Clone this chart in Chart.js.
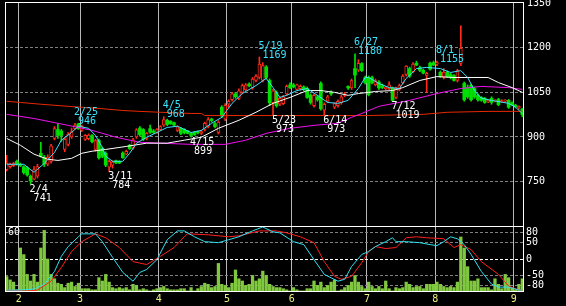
<!DOCTYPE html>
<html>
<head>
<meta charset="utf-8">
<script src="https://cdn.jsdelivr.net/npm/chart.js@4.4.1/dist/chart.umd.min.js"></script>
<style>
  html, body { margin: 0; padding: 0; background: #000; }
  #wrap { position: relative; width: 566px; height: 306px; overflow: hidden; background: #000; }
  #priceChart { position: absolute; left: 0; top: 0; }
  #subChart { position: absolute; left: 0; top: 226px; }
</style>
</head>
<body>
<div id="wrap">
  <canvas id="priceChart" width="566" height="227"></canvas>
  <canvas id="subChart" width="566" height="80"></canvas>
</div>
<script>
// trading days on the chart and where each month starts
const dayCount = 152;
const monthLabels = ['2', '3', '4', '5', '6', '7', '8', '9'];
const monthStarts = [4, 22, 45, 65, 84, 106, 126, 149];

const priceTicks = [750, 900, 1050, 1200, 1350];
const oscTicks = [80, 50, 0, -50, -80];
const volumeTicks = [60];

// daily candles
const opens = [
  790, 800, 803, 818, 808, 800, 796, 768, 758, 768,
  845, 832, 808, 818, 895, 925, 920, 858, 875, 900,
  928, 944, 922, 892, 894, 905, 858, 888, 862, 845,
  798, 805, 820, 818, 846, 842, 872, 862, 900, 930,
  925, 895, 928, 920, 915, 925, 940, 956, 952, 948,
  922, 928, 925, 920, 912, 915, 918, 912, 925, 935,
  960, 945, 915, 1000, 960, 1010, 1025, 1045, 1030, 1050,
  1058, 1078, 1065, 1090, 1100, 1090, 1135, 1090, 1015, 1050,
  1010, 1012, 1045, 1075, 1075, 1060, 1062, 1068, 1063, 1040,
  1005, 1035, 1080, 990, 1020, 1050, 1000, 1005, 1015, 1040,
  1070, 1065, 1130, 1125, 1147, 1100, 1100, 1100, 1075, 1085,
  1072, 1062, 1062, 1065, 1033, 1060, 1082, 1110, 1130, 1120,
  1148, 1133, 1124, 1107, 1148, 1150, 1145, 1117, 1100, 1117,
  1110, 1107, 1090, 1147, 1080, 1066, 1073, 1063, 1040, 1033,
  1030, 1018, 1030, 1020, 1026, 1018, 1020, 1023, 1015, 1007,
  998, 994
];
const highs = [
  838, 812, 815, 822, 812, 803, 800, 772, 800, 808,
  882, 838, 840, 875, 935, 945, 925, 898, 915, 930,
  946, 946, 940, 908, 910, 908, 892, 893, 866, 850,
  822, 820, 822, 820, 850, 856, 875, 895, 928, 935,
  928, 915, 940, 925, 928, 938, 968, 960, 955, 950,
  938, 932, 928, 922, 915, 918, 920, 922, 950, 965,
  963, 950, 955, 1005, 1012, 1025, 1050, 1050, 1062, 1078,
  1080, 1082, 1100, 1110, 1169, 1150, 1140, 1095, 1060, 1055,
  1035, 1040, 1075, 1082, 1080, 1078, 1075, 1072, 1068, 1045,
  1045, 1040, 1085, 1015, 1040, 1055, 1015, 1025, 1040, 1050,
  1072, 1095, 1180, 1160, 1150, 1105, 1105, 1105, 1095, 1090,
  1078, 1070, 1085, 1068, 1068, 1078, 1110, 1140, 1135, 1150,
  1155, 1138, 1128, 1118, 1152, 1155, 1155, 1122, 1130, 1122,
  1115, 1110, 1128, 1274, 1085, 1075, 1078, 1068, 1045, 1036,
  1033, 1025, 1035, 1026, 1030, 1025, 1026, 1026, 1018, 1010,
  1005, 996
];
const lows = [
  785, 795, 800, 805, 800, 775, 768, 741, 755, 762,
  832, 800, 803, 812, 890, 895, 885, 850, 870, 895,
  925, 925, 918, 888, 890, 880, 852, 825, 830, 800,
  784, 795, 810, 810, 828, 840, 858, 858, 895, 903,
  888, 890, 912, 912, 912, 922, 935, 938, 942, 936,
  918, 908, 910, 910, 899, 905, 910, 908, 920, 930,
  950, 930, 910, 965, 955, 1000, 1020, 1030, 1025, 1045,
  1055, 1068, 1060, 1085, 1095, 1085, 1095, 1005, 973, 1000,
  1005, 1008, 1040, 1062, 1065, 1058, 1058, 1055, 1030, 1010,
  1000, 1020, 990, 973, 1015, 1040, 995, 1000, 1010, 1035,
  1060, 1060, 1066, 1120, 1120, 1078, 1038, 1078, 1072, 1060,
  1062, 1058, 1058, 1019, 1028, 1055, 1078, 1105, 1100, 1115,
  1140, 1120, 1112, 1050, 1125, 1140, 1140, 1100, 1095, 1100,
  1095, 1088, 1085, 1140, 1020, 1030, 1020, 1030, 1020, 1020,
  1013, 1015, 1010, 1018, 1005, 1016, 1016, 996, 1006, 998,
  993, 968
];
const closes = [
  812, 808, 810, 808, 804, 780, 772, 752, 790, 800,
  836, 808, 832, 870, 928, 905, 905, 892, 910, 918,
  940, 928, 936, 905, 906, 884, 888, 830, 835, 805,
  818, 815, 813, 812, 830, 852, 860, 890, 924, 908,
  892, 912, 916, 915, 925, 935, 958, 942, 945, 940,
  935, 912, 914, 912, 905, 908, 914, 918, 946, 958,
  955, 935, 950, 970, 1006, 1020, 1045, 1035, 1055, 1073,
  1075, 1072, 1095, 1105, 1145, 1140, 1100, 1015, 1055, 1005,
  1030, 1035, 1070, 1066, 1068, 1075, 1070, 1060, 1033, 1016,
  1040, 1025, 995, 1010, 1035, 1045, 1012, 1020, 1035, 1045,
  1065, 1090, 1108, 1148, 1123, 1082, 1042, 1082, 1090, 1065,
  1066, 1068, 1075, 1023, 1066, 1073, 1105, 1138, 1105, 1145,
  1142, 1124, 1115, 1114, 1128, 1142, 1150, 1104, 1118, 1103,
  1100, 1090, 1123, 1198, 1025, 1035, 1025, 1035, 1025, 1023,
  1016, 1023, 1016, 1024, 1009, 1022, 1024, 1000, 1009, 1002,
  1003, 975
];
const volumes = [
  14, 11, 9, 2, 40, 34, 16, 10, 16, 9,
  40, 56, 30, 16, 12, 8, 7, 4, 8, 9,
  5, 8, 3, 3, 3, 2, 2, 13, 10, 16,
  9, 4, 3, 4, 3, 4, 2, 7, 6, 2,
  3, 2, 1, 2, 3, 4, 5, 3, 2, 2,
  2, 3, 3, 1, 4, 1, 3, 5, 8, 7,
  4, 5, 26, 7, 6, 4, 8, 20, 12, 10,
  6, 7, 15, 10, 12, 19, 15, 7, 5, 4,
  4, 3, 2, 1, 4, 2, 1, 1, 3, 3,
  10, 6, 9, 4, 6, 9, 11, 1, 2, 4,
  6, 9, 15, 9, 5, 3, 9, 5, 3, 5,
  3, 10, 3, 1, 4, 3, 4, 9, 7, 4,
  5, 5, 3, 7, 7, 7, 9, 7, 5, 4,
  5, 4, 9, 50, 40, 23, 10, 10, 12, 4,
  4, 4, 2, 12, 7, 3, 16, 13, 4, 2,
  7, 12
];

// moving averages, read as [day, price]
const maFast = [
  [0, 808], [5, 808], [8, 781], [11, 811], [14, 848], [16, 889], [19, 915], [21, 936],
  [24, 929], [26, 905], [28, 865], [29, 835], [31, 818], [34, 818], [36, 845], [38, 879],
  [41, 899], [44, 915], [47, 932], [50, 936], [53, 920], [54, 915], [57, 922], [60, 946],
  [63, 966], [66, 1013], [69, 1046], [73, 1073], [76, 1097], [78, 1066], [80, 1033],
  [82, 1040], [85, 1056], [88, 1063], [91, 1040], [94, 1016], [97, 1013], [100, 1023],
  [103, 1063], [105, 1100], [106, 1100], [109, 1080], [112, 1066], [115, 1063], [117, 1097],
  [120, 1130], [123, 1134], [127, 1130], [130, 1117], [133, 1123], [135, 1100], [137, 1056],
  [139, 1030], [142, 1023], [147, 1013], [149, 1000], [151, 979]
];
const maMid = [
  [0, 895], [4, 872], [8, 842], [12, 825], [15, 821], [19, 828], [22, 845], [25, 852],
  [29, 858], [35, 868], [41, 879], [47, 879], [52, 889], [57, 899], [62, 929], [68, 956],
  [73, 983], [78, 1013], [83, 1033], [88, 1056], [92, 1056], [96, 1050], [100, 1040],
  [103, 1046], [106, 1050], [108, 1053], [113, 1056], [116, 1066], [121, 1090], [126, 1103],
  [131, 1100], [136, 1100], [141, 1100], [144, 1083], [148, 1066], [151, 1050]
];
const maLong = [
  [0, 976], [8, 962], [18, 939], [25, 922], [32, 899], [39, 882], [45, 879], [54, 875],
  [64, 875], [70, 889], [76, 912], [83, 929], [90, 939], [97, 946], [101, 966], [104, 979],
  [109, 1003], [118, 1023], [126, 1046], [133, 1063], [139, 1070], [147, 1066], [151, 1060]
];
const maYear = [
  [0, 1020], [4, 1016], [10, 1010], [18, 1003], [27, 996], [34, 989], [39, 986], [45, 983],
  [54, 979], [57, 979], [58, 972], [106, 972], [122, 976], [129, 983], [141, 986], [151, 986]
];

// oscillator lines, read as [day, value]
const oscFast = [
  [0, -95], [4, -95], [8, -92], [11, -77], [14, -38], [16, 8], [18, 38], [21, 68], [22, 77],
  [26, 77], [28, 53], [31, 5], [34, -41], [37, -68], [39, -41], [41, -32], [44, -2], [47, 59],
  [50, 86], [52, 86], [55, 68], [58, 53], [62, 50], [65, 59], [68, 68], [72, 86], [75, 98],
  [78, 83], [80, 80], [84, 53], [87, 44], [90, -2], [93, -47], [97, -68], [99, -62], [101, -23],
  [104, 14], [106, 23], [108, 38], [111, 53], [113, 65], [114, 53], [117, 53], [121, 50],
  [124, 44], [126, 41], [128, 53], [130, 68], [132, 62], [134, 44], [136, 14], [139, -38],
  [142, -77], [144, -86], [147, -86], [150, -95], [151, -95]
];
const oscSlow = [
  [0, -95], [6, -98], [9, -95], [13, -68], [16, -26], [19, 23], [22, 53], [26, 77], [29, 65],
  [33, 35], [37, -8], [41, -17], [45, 8], [49, 35], [52, 68], [53, 77], [59, 74], [65, 68],
  [68, 71], [74, 86], [79, 86], [82, 80], [86, 68], [90, 50], [93, -8], [96, -53], [98, -62],
  [101, -53], [104, -11], [106, 23], [108, 38], [111, 32], [114, 35], [117, 65], [120, 68],
  [123, 65], [128, 62], [131, 35], [133, 44], [136, 29], [139, -8], [144, -47], [147, -83],
  [150, -95], [151, -95]
];

// peak / trough notes
const markIdx = [7, 20, 30, 46, 54, 74, 78, 93, 102, 113, 126];
const markText = ['2/4', '2/25', '3/11', '4/5', '4/15', '5/19', '5/23', '6/14', '6/27', '7/12', '8/1'];
const markValue = [741, 946, 784, 968, 899, 1169, 973, 973, 1180, 1019, 1155];
const markHigh = [false, true, false, true, false, true, false, false, true, false, true];

const UP = '#ff2a1a';
const DOWN = '#00e000';
const CYAN = '#3ae4ff';
const FONT = { family: 'DejaVu Sans Mono', size: 10 };

const days = opens.map((o, i) => i);
const isUp = i => closes[i] >= opens[i];
const toXY = arr => arr.map(p => ({ x: p[0], y: p[1] }));

// white frame round the plot area
const framePlugin = {
    id: 'frame',
    afterDraw(chart) {
        const { ctx, chartArea: a } = chart;
        ctx.save();
        ctx.strokeStyle = '#ffffff';
        ctx.lineWidth = 1;
        ctx.strokeRect(Math.round(a.left) + 0.5, Math.round(a.top) + 0.5,
            Math.round(a.right - a.left) - 1, Math.round(a.bottom - a.top) - 1);
        ctx.restore();
    }
};

// date / price notes at highs and lows
const markPlugin = {
    id: 'marks',
    afterDatasetsDraw(chart) {
        const { ctx, scales } = chart;
        ctx.save();
        ctx.font = '10px "DejaVu Sans Mono"';
        ctx.textAlign = 'left';
        ctx.textBaseline = 'middle';
        markIdx.forEach((d, k) => {
            const px = scales.x.getPixelForValue(d);
            const py = scales.y.getPixelForValue(markValue[k]);
            const high = markHigh[k];
            ctx.fillStyle = high ? CYAN : '#ffffff';
            ctx.fillText(markText[k], px - 1, high ? py - 11 : py + 5);
            ctx.fillText(String(markValue[k]), px + 3, high ? py - 2 : py + 14);
        });
        ctx.restore();
    }
};

function xAxis(showLabels) {
    return {
        type: 'linear',
        min: -0.5,
        max: dayCount - 0.5,
        offset: false,
        grid: { color: '#b8b8b8', lineWidth: 1, drawTicks: false, offset: false },
        border: { display: false },
        ticks: {
            display: showLabels,
            color: '#f0f080',
            font: FONT,
            padding: 1,
            maxRotation: 0,
            autoSkip: false,
            callback: (v, i) => monthLabels[i]
        },
        afterBuildTicks: s => { s.ticks = monthStarts.map(m => ({ value: m - 0.5 })); }
    };
}

function fitRight(s) {
    s.width = 42;
    s.paddingTop = 0;
    s.paddingBottom = 0;
}

new Chart(document.getElementById('priceChart'), {
    type: 'bar',
    data: {
        datasets: [
            { type: 'line', data: toXY(maFast), borderColor: CYAN, borderWidth: 1, pointRadius: 0, order: 0 },
            { type: 'line', data: toXY(maMid), borderColor: '#ffffff', borderWidth: 1, pointRadius: 0, order: 0 },
            { type: 'line', data: toXY(maLong), borderColor: '#f010f0', borderWidth: 1, pointRadius: 0, order: 0 },
            { type: 'line', data: toXY(maYear), borderColor: '#e82800', borderWidth: 1, pointRadius: 0, order: 0 },
            {
                data: days.map(i => ({ x: i, y: [opens[i], closes[i]] })),
                backgroundColor: c => isUp(c.dataIndex) ? '#000000' : DOWN,
                borderColor: c => isUp(c.dataIndex) ? UP : DOWN,
                borderWidth: c => isUp(c.dataIndex) ? 1 : 0,
                borderSkipped: false,
                barThickness: 3,
                minBarLength: 1,
                grouped: false,
                order: 1
            },
            {
                data: days.map(i => ({ x: i, y: [lows[i], highs[i]] })),
                backgroundColor: c => isUp(c.dataIndex) ? UP : DOWN,
                borderWidth: 0,
                barThickness: 1,
                grouped: false,
                order: 2
            }
        ]
    },
    options: {
        responsive: false,
        devicePixelRatio: 1,
        animation: false,
        events: [],
        layout: { autoPadding: false, padding: { left: 5, top: 2, right: 0, bottom: 0 } },
        plugins: { legend: { display: false }, tooltip: { enabled: false } },
        scales: {
            x: xAxis(false),
            y: {
                position: 'right',
                min: 597,
                max: 1354,
                grid: {
                    color: c => c.tick && c.tick.value === 1350 ? 'rgba(0,0,0,0)' : '#808080',
                    drawTicks: false
                },
                border: { display: false, dash: [3, 2] },
                ticks: { color: '#ffffff', font: FONT, padding: 3, callback: v => String(v) },
                afterBuildTicks: s => { s.ticks = priceTicks.map(v => ({ value: v })); },
                afterFit: fitRight
            }
        }
    },
    plugins: [framePlugin, markPlugin]
});

new Chart(document.getElementById('subChart'), {
    type: 'bar',
    data: {
        datasets: [
            { type: 'line', data: toXY(oscFast), yAxisID: 'yo', borderColor: '#30e0f0', borderWidth: 1, pointRadius: 0, order: 0 },
            { type: 'line', data: toXY(oscSlow), yAxisID: 'yo', borderColor: '#ff2020', borderWidth: 1, pointRadius: 0, order: 0 },
            {
                data: days.map(i => ({ x: i, y: volumes[i] })),
                yAxisID: 'yv',
                backgroundColor: '#80c840',
                borderWidth: 0,
                barThickness: 2.6,
                grouped: false,
                order: 2
            }
        ]
    },
    options: {
        responsive: false,
        devicePixelRatio: 1,
        animation: false,
        events: [],
        layout: { autoPadding: false, padding: { left: 5, top: 0, right: 0, bottom: 0 } },
        plugins: { legend: { display: false }, tooltip: { enabled: false } },
        scales: {
            x: xAxis(true),
            yo: {
                position: 'right',
                min: -101,
                max: 101,
                grid: {
                    color: c => c.tick && c.tick.value === 0 ? '#ffffff' : '#808080',
                    drawTicks: false
                },
                border: { display: false, dash: [3, 2] },
                ticks: { color: '#ffffff', font: FONT, padding: 2, callback: v => String(v) },
                afterBuildTicks: s => { s.ticks = oscTicks.map(v => ({ value: v })); },
                afterFit: fitRight
            },
            yv: {
                position: 'left',
                min: 0,
                max: 60,
                grid: { display: false, drawTicks: false },
                border: { display: false },
                ticks: { mirror: true, labelOffset: 6, padding: 3, color: '#ffffff', font: FONT, callback: v => String(v) },
                afterBuildTicks: s => { s.ticks = volumeTicks.map(v => ({ value: v })); },
                afterFit: s => { s.width = 0; s.paddingTop = 0; s.paddingBottom = 0; }
            }
        }
    },
    plugins: [framePlugin]
});
</script>
</body>
</html>
